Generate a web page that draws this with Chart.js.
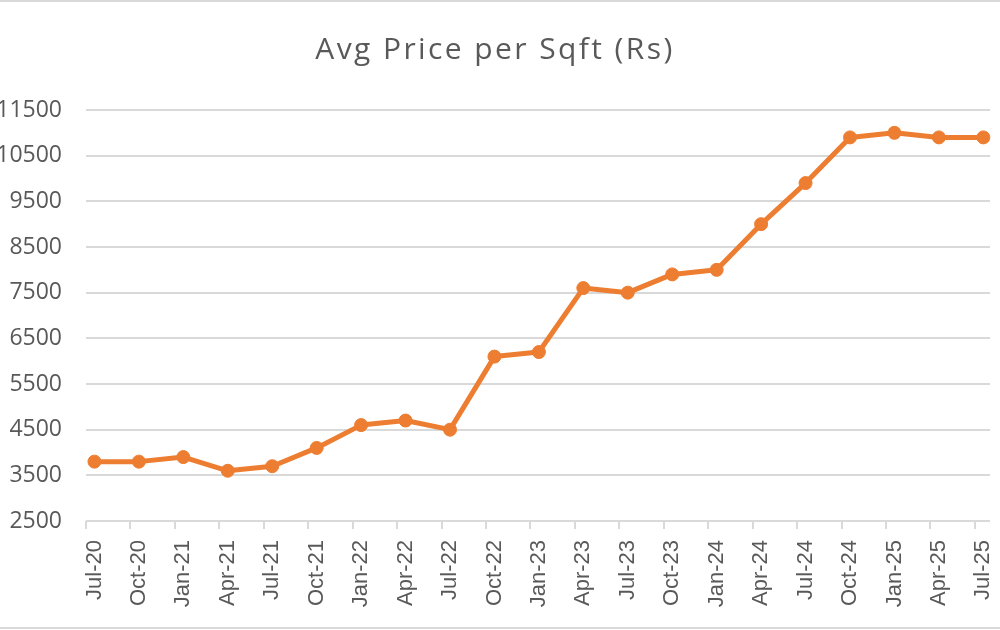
<!DOCTYPE html>
<html>
<head>
<meta charset="utf-8">
<title>Avg Price per Sqft (Rs)</title>
<script src="https://cdn.jsdelivr.net/npm/chart.js@4.4.1/dist/chart.umd.min.js"></script>
<style>
	html, body { margin: 0; padding: 0; background: #fff; }
	#wrap { position: relative; width: 1000px; height: 630px; }
	/* thin grey frame lines at top and bottom, like the sheet border */
	#wrap::before, #wrap::after { content: ''; position: absolute; left: 0; right: 0; height: 2px; background: #d9d9d9; }
	#wrap::before { top: 0; }
	#wrap::after { top: 627px; }
</style>
</head>
<body>
<div id="wrap"><canvas id="chart" width="1000" height="630"></canvas></div>
<script>
// Quarterly average price per sqft

const months = [
	'Jul-20', 'Oct-20', 'Jan-21', 'Apr-21', 'Jul-21', 'Oct-21', 'Jan-22',
	'Apr-22', 'Jul-22', 'Oct-22', 'Jan-23', 'Apr-23', 'Jul-23', 'Oct-23',
	'Jan-24', 'Apr-24', 'Jul-24', 'Oct-24', 'Jan-25', 'Apr-25', 'Jul-25'
];

const avgPrice = [
	3800, 3800, 3900, 3600, 3700, 4100, 4600,
	4700, 4500, 6100, 6200, 7600, 7500, 7900,
	8000, 9000, 9900, 10900, 11000, 10900, 10900
];

const yMin = 2500;
const yMax = 11500;
const yStep = 1000;

// excel puts tick marks a bit left of each point
const TICK_SHIFT = 0.19;

const ORANGE = '#ED7D31';
const GREY_TEXT = '#595959';
const GREY_LINE = '#d9d9d9';

// wider spacing for the title only (tick labels are drawn later, z: 1)
const titleSpacing = {
	id: 'titleSpacing',
	beforeDraw: chart => {
		chart.ctx.letterSpacing = '2.4px';
	},
	beforeDatasetsDraw: chart => {
		chart.ctx.letterSpacing = '0px';
	}
};

new Chart(document.getElementById('chart'), {
	type: 'line',
	data: {
		datasets: [
			{
				label: 'Avg Price per Sqft (Rs)',
				data: avgPrice.map((v, i) => ({ x: i, y: v })),
				borderColor: ORANGE,
				backgroundColor: ORANGE,
				borderWidth: 5,
				borderJoinStyle: 'round',
				borderCapStyle: 'round',
				pointRadius: 6.5,
				pointBackgroundColor: ORANGE,
				pointBorderColor: ORANGE,
				pointBorderWidth: 1,
				tension: 0,
				clip: false
			}
		]
	},
	options: {
		responsive: false,
		animation: false,
		layout: { padding: { top: 0, left: 0, right: 10, bottom: 0 } },
		plugins: {
			legend: { display: false },
			tooltip: { enabled: false },
			title: {
				display: true,
				text: 'Avg Price per Sqft (Rs)',
				color: GREY_TEXT,
				font: { family: 'Open Sans', size: 30, weight: 'normal', lineHeight: 1.2 },
				padding: { top: 32, bottom: 42 }
			}
		},
		scales: {
			x: {
				type: 'linear',
				bounds: 'data',
				min: -TICK_SHIFT,
				max: 20.15,
				afterBuildTicks: scale => {
					scale.ticks = months.map((m, i) => ({ value: i - TICK_SHIFT }));
				},
				afterFit: scale => {
					scale.height = 109;
					// rotated labels would otherwise pull the plot in from the right
					scale.paddingLeft = 0;
					scale.paddingRight = 0;
				},
				grid: { drawOnChartArea: false, color: GREY_LINE, lineWidth: 2, tickLength: 8 },
				border: { display: false },
				ticks: {
					z: 1,
					autoSkip: false,
					minRotation: 90,
					maxRotation: 90,
					labelOffset: 8.5,
					padding: 11,
					color: GREY_TEXT,
					font: { family: 'Liberation Sans', size: 22 },
					callback: (value, index) => months[index]
				}
			},
			y: {
				min: yMin,
				max: yMax,
				afterFit: scale => {
					scale.width = 86;
				},
				grid: { color: GREY_LINE, lineWidth: 2, drawTicks: false },
				border: { display: false },
				ticks: {
					z: 1,
					stepSize: yStep,
					padding: 24,
					color: GREY_TEXT,
					font: { family: 'Open Sans', size: 23 },
					callback: value => String(value)
				}
			}
		}
	},
	plugins: [titleSpacing]
});
</script>
</body>
</html>
